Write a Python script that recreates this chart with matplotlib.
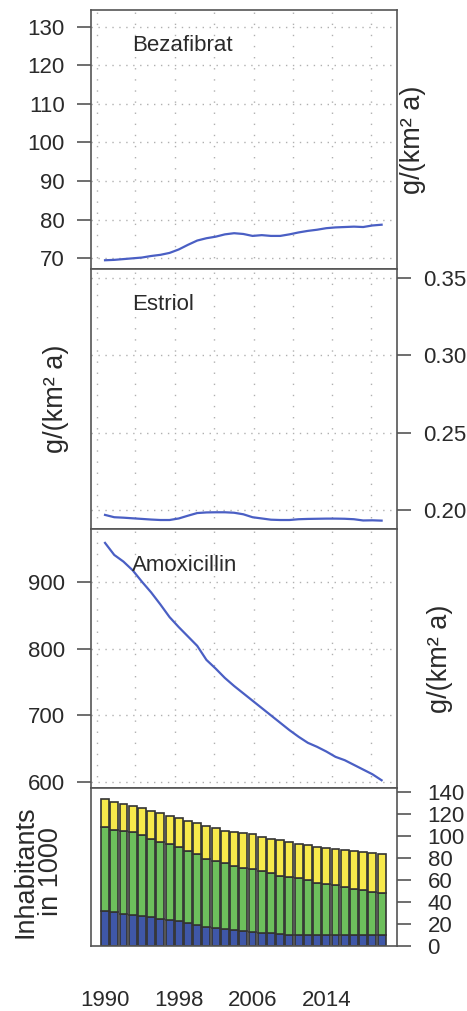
import numpy as np
import matplotlib
matplotlib.use('Agg')
import matplotlib.pyplot as plt

plt.rcParams['font.family'] = ['Liberation Sans', 'DejaVu Sans']

# Jahreswerte 1990-2020
years = np.arange(1990, 2021)

bezafibrat = [69.5, 69.6, 69.8, 70.0, 70.2, 70.6, 70.9, 71.4, 72.3, 73.5,
              74.6, 75.2, 75.6, 76.2, 76.5, 76.3, 75.8, 76.0, 75.8, 75.8,
              76.2, 76.7, 77.1, 77.4, 77.8, 78.0, 78.1, 78.2, 78.1, 78.5, 78.7]

estriol = [0.1968, 0.1953, 0.1950, 0.1946, 0.1942, 0.1938, 0.1935, 0.1935,
           0.1945, 0.1963, 0.1980, 0.1984, 0.1985, 0.1985, 0.1982, 0.1972,
           0.1953, 0.1945, 0.1937, 0.1935, 0.1935, 0.1940, 0.1942, 0.1943,
           0.1944, 0.1944, 0.1943, 0.1940, 0.1932, 0.1933, 0.1931]

amoxicillin = [958, 940, 930, 917, 900, 884, 866, 847, 832, 818,
               804, 783, 770, 756, 744, 733, 722, 711, 700, 689,
               678, 668, 659, 653, 646, 638, 633, 626, 619, 612, 603]

# Einwohner in 1000, drei Altersgruppen (gestapelt)
inh_blue = [32.2, 31.0, 29.4, 28.8, 27.6, 26.4, 25.2, 24.0, 22.8, 21.0,
            19.5, 17.9, 16.8, 15.9, 15.0, 14.2, 13.4, 12.5, 11.9, 11.0,
            10.4, 10.4, 10.4, 10.4, 10.4, 10.4, 10.4, 10.4, 10.4, 10.4, 10.4]
inh_green = [76.3, 74.5, 75.5, 74.6, 73.4, 70.7, 69.7, 68.6, 67.6, 65.8,
             64.3, 61.4, 60.6, 59.5, 57.9, 56.6, 56.5, 56.2, 54.4, 53.2,
             52.9, 51.4, 49.9, 47.5, 45.9, 45.0, 43.2, 41.4, 40.8, 38.7, 38.4]
inh_yellow = [24.8, 25.7, 24.2, 23.9, 24.2, 25.6, 25.7, 25.6, 25.7, 27.2,
              27.8, 29.8, 29.6, 29.5, 30.8, 32.2, 31.8, 30.2, 30.8, 32.3,
              31.1, 30.8, 31.7, 32.6, 33.3, 32.9, 33.8, 34.7, 34.1, 35.3, 34.7]

xtick_years = [1990, 1998, 2006, 2014]
vgrid = [1989.13, 1993.25, 1997.58, 2001.82, 2006.16, 2010.39, 2014.62, 2018.85]

line_col = '#4a5fc4'
spine_col = '#555555'
txt_col = '#2a2a2a'
grid_col = '#b0b0b0'
fs_tick = 16
fs_lab = 19.5
xlim = (1988.48, 2021.67)

fig = plt.figure(figsize=(4.67, 10.11), dpi=100)
L, W = 0.1949, 0.6552
ax1 = fig.add_axes([L, 0.7336, W, 0.2565])
ax2 = fig.add_axes([L, 0.4765, W, 0.2572])
ax3 = fig.add_axes([L, 0.2203, W, 0.2562])
ax4 = fig.add_axes([L, 0.0638, W, 0.1565])

for ax in (ax1, ax2, ax3, ax4):
    ax.set_xlim(*xlim)
    for s in ax.spines.values():
        s.set_color(spine_col)
        s.set_linewidth(1.2)
    ax.tick_params(colors=spine_col, labelcolor=txt_col, labelsize=fs_tick,
                   length=10, width=1.2, pad=9)
    ax.tick_params(axis='x', bottom=False, labelbottom=False)


def add_grid(ax, yticks):
    for y in yticks:
        ax.axhline(y, color=grid_col, lw=1.0, ls=(0, (1, 4)), zorder=0)
    for x in vgrid:
        ax.axvline(x, color=grid_col, lw=1.0, ls=(0, (1, 7)), zorder=0)


# Bezafibrat
ax1.plot(years, bezafibrat, color=line_col, lw=1.6)
ax1.set_ylim(67.15, 134.27)
yt1 = [70, 80, 90, 100, 110, 120, 130]
ax1.set_yticks(yt1)
add_grid(ax1, yt1)
ax1.text(0.133, 0.865, 'Bezafibrat', transform=ax1.transAxes, fontsize=fs_tick,
         color=txt_col, va='center', ha='left')
ax1.text(1.052, 0.5, 'g/(km² a)', transform=ax1.transAxes, rotation=90,
         fontsize=fs_lab, color=txt_col, va='center', ha='center')

# Estriol
ax2.plot(years, estriol, color=line_col, lw=1.6)
ax2.set_ylim(0.18751, 0.35583)
yt2 = [0.20, 0.25, 0.30, 0.35]
ax2.set_yticks(yt2)
ax2.set_yticklabels(['%.2f' % v for v in yt2])
ax2.yaxis.tick_right()
add_grid(ax2, yt2)
ax2.text(0.133, 0.8627, 'Estriol', transform=ax2.transAxes, fontsize=fs_tick,
         color=txt_col, va='center', ha='left')
ax2.text(-0.114, 0.5, 'g/(km² a)', transform=ax2.transAxes, rotation=90,
         fontsize=fs_lab, color=txt_col, va='center', ha='center')

# Amoxicillin
ax3.plot(years, amoxicillin, color=line_col, lw=1.6)
ax3.set_ylim(591, 978.4)
yt3 = [600, 700, 800, 900]
ax3.set_yticks(yt3)
add_grid(ax3, yt3)
ax3.text(0.133, 0.862, 'Amoxicillin', transform=ax3.transAxes, fontsize=fs_tick,
         color=txt_col, va='center', ha='left')
ax3.text(1.1405, 0.5, 'g/(km² a)', transform=ax3.transAxes, rotation=90,
         fontsize=fs_lab, color=txt_col, va='center', ha='center')

# Einwohner
bw = 0.86
blue = np.array(inh_blue)
green = np.array(inh_green)
yellow = np.array(inh_yellow)
ec = '#333333'
ax4.bar(years, blue, width=bw, color='#3f57a8', edgecolor=ec, lw=1.2)
ax4.bar(years, green, width=bw, bottom=blue, color='#6dbf5c', edgecolor=ec, lw=1.2)
ax4.bar(years, yellow, width=bw, bottom=blue + green, color='#f7e94b',
        edgecolor=ec, lw=1.2)
ax4.set_ylim(0, 143.35)
ax4.set_yticks(range(0, 141, 20))
ax4.yaxis.tick_right()
ax4.tick_params(axis='y', pad=12)
ax4.set_xticks(xtick_years)
ax4.tick_params(axis='x', bottom=False, labelbottom=True, length=0, pad=31)
ax4.text(-0.173, 0.471, 'Inhabitants\nin 1000', transform=ax4.transAxes,
         rotation=90, fontsize=fs_lab, color=txt_col, va='center', ha='center',
         linespacing=0.95)

fig.savefig('out.png', dpi=100)
